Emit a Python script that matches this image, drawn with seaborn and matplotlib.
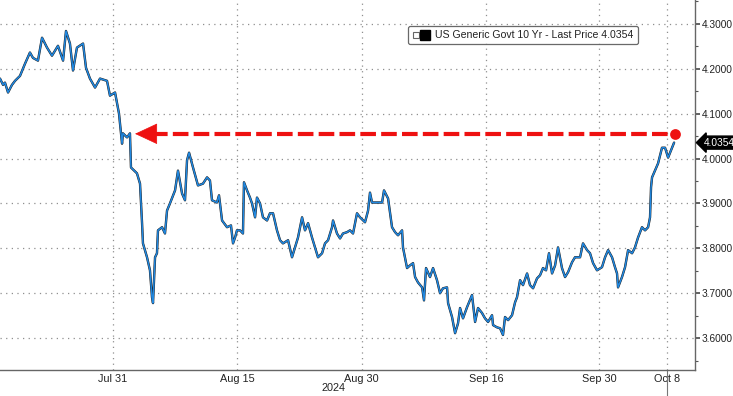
import numpy as np
import pandas as pd
import matplotlib
matplotlib.use("Agg")
import matplotlib.pyplot as plt
import matplotlib.transforms as mtransforms
import seaborn as sns
from matplotlib.lines import Line2D
from matplotlib.legend_handler import HandlerTuple
from matplotlib.ticker import FixedLocator, FormatStrFormatter, MultipleLocator

# ---- data (x = business days since Jul 17, 2024; y = 10y yield) ----
session_day = [
    0.00, 0.27, 0.44, 0.71, 1.06, 1.33, 1.77, 2.21, 2.65, 2.92, 3.36, 3.72, 4.16, 4.60, 5.13, 5.58,
    5.84, 6.19, 6.46, 6.81, 7.35, 7.61, 7.96, 8.41, 8.85, 9.47, 9.73, 10.18, 10.53, 10.80, 10.88,
    11.24, 11.50, 11.59, 12.12, 12.39, 12.57, 12.65, 13.01, 13.27, 13.45, 13.54, 13.72, 13.89, 13.98,
    14.34, 14.60, 14.78, 15.04, 15.49, 15.75, 16.11, 16.37, 16.55, 16.73, 17.08, 17.52, 17.96, 18.32,
    18.58, 18.76, 19.20, 19.38, 19.65, 20.09, 20.44, 20.62, 20.80, 20.97, 21.24, 21.50, 21.59, 21.86,
    22.12, 22.30, 22.57, 22.74, 23.01, 23.27, 23.63, 23.89, 24.16, 24.51, 24.78, 25.04, 25.49, 25.84,
    26.11, 26.37, 26.73, 26.99, 27.26, 27.61, 27.88, 28.14, 28.50, 28.76, 29.03, 29.38, 29.47, 29.82,
    30.09, 30.35, 30.71, 30.97, 31.24, 31.59, 31.86, 32.30, 32.57, 32.74, 32.92, 33.81, 33.98, 34.34,
    34.69, 34.96, 35.22, 35.58, 35.66, 36.02, 36.28, 36.55, 36.73, 36.99, 37.35, 37.52, 37.70, 38.05,
    38.32, 38.67, 38.94, 39.20, 39.56, 39.65, 40.00, 40.27, 40.53, 40.71, 40.97, 41.33, 41.77, 42.04,
    42.30, 42.65, 42.92, 43.19, 43.54, 43.63, 43.98, 44.25, 44.51, 44.69, 44.96, 45.31, 45.58, 45.75,
    46.02, 46.28, 46.64, 46.90, 47.17, 47.52, 47.79, 48.05, 48.32, 48.58, 48.85, 49.12, 49.38, 49.73,
    50.00, 50.27, 50.62, 50.88, 51.33, 51.59, 51.95, 52.21, 52.48, 52.83, 53.27, 53.54, 53.81, 54.16,
    54.42, 54.60, 54.69, 55.04, 55.31, 55.58, 55.93, 56.19, 56.46, 56.81, 57.08, 57.35, 57.52, 57.61,
    57.70, 57.96, 58.23, 58.58, 58.85, 59.12, 59.47, 59.65,
]
yield_pct = [
    4.178, 4.164, 4.169, 4.147, 4.164, 4.173, 4.184, 4.211, 4.236, 4.224, 4.218, 4.269, 4.247, 4.229, 4.251, 4.218,
    4.284, 4.256, 4.196, 4.247, 4.256, 4.202, 4.178, 4.158, 4.178, 4.173, 4.140, 4.147, 4.100, 4.033, 4.056,
    4.047, 4.056, 3.980, 3.967, 3.944, 3.856, 3.811, 3.780, 3.751, 3.691, 3.678, 3.780, 3.789, 3.840,
    3.847, 3.833, 3.884, 3.900, 3.929, 3.973, 3.922, 3.907, 3.996, 4.013, 3.980, 3.940, 3.944, 3.958,
    3.951, 3.907, 3.902, 3.918, 3.862, 3.847, 3.851, 3.811, 3.824, 3.840, 3.840, 3.833, 3.947, 3.929,
    3.913, 3.900, 3.869, 3.913, 3.900, 3.869, 3.862, 3.878, 3.878, 3.840, 3.818, 3.811, 3.818, 3.780,
    3.802, 3.824, 3.869, 3.840, 3.856, 3.824, 3.802, 3.780, 3.789, 3.811, 3.818, 3.847, 3.862, 3.833,
    3.822, 3.833, 3.836, 3.840, 3.833, 3.878, 3.869, 3.858, 3.884, 3.924, 3.902, 3.902, 3.929, 3.911,
    3.847, 3.836, 3.829, 3.840, 3.802, 3.756, 3.762, 3.767, 3.736, 3.724, 3.713, 3.684, 3.756, 3.736,
    3.756, 3.729, 3.700, 3.711, 3.713, 3.678, 3.647, 3.611, 3.633, 3.667, 3.644, 3.669, 3.696, 3.636,
    3.667, 3.656, 3.644, 3.636, 3.651, 3.629, 3.624, 3.622, 3.607, 3.647, 3.640, 3.651, 3.680, 3.691,
    3.729, 3.718, 3.744, 3.718, 3.711, 3.733, 3.740, 3.756, 3.751, 3.789, 3.744, 3.762, 3.802, 3.756,
    3.736, 3.747, 3.769, 3.780, 3.780, 3.811, 3.796, 3.789, 3.767, 3.751, 3.758, 3.780, 3.796, 3.780,
    3.758, 3.744, 3.713, 3.736, 3.758, 3.796, 3.789, 3.802, 3.824, 3.847, 3.840, 3.847, 3.869, 3.936,
    3.958, 3.973, 3.989, 4.024, 4.024, 4.002, 4.024, 4.0354,
]
tick_days = [10, 21, 32, 43, 53, 59]
tick_labels = ["Jul 31", "Aug 15", "Aug 30", "Sep 16", "Sep 30", "Oct 8"]
minor_days = [3, 16, 27, 38, 48]
y_ticks = [3.6, 3.7, 3.8, 3.9, 4.0, 4.1, 4.2, 4.3]
year_label = "2024"
last_price = 4.0354
legend_label = "US Generic Govt 10 Yr - Last Price 4.0354"
arrow_level = 4.055
arrow_from_day = 59.73
arrow_to_day = 11.95

# ---- figure ----
sns.set_style("white")
plt.rcParams['font.family'] = ['Liberation Sans', 'DejaVu Sans']

W, H = 733, 396
fig = plt.figure(figsize=(W / 100, H / 100), dpi=100)
ax = fig.add_axes([0, 1 - 370 / H, 695 / W, 370 / H])

df = pd.DataFrame({"day": session_day, "yield": yield_pct})
sns.lineplot(data=df, x="day", y="yield", ax=ax, color="#1a1a1a", lw=1.7,
             estimator=None, sort=False, zorder=3)
sns.lineplot(data=df, x="day", y="yield", ax=ax, color="#2188e0", lw=1.1,
             estimator=None, sort=False, zorder=4)

ax.set_xlim(0, 61.5)
ax.set_ylim(3.529, 4.353)
ax.set_xlabel("")
ax.set_ylabel("")

# ticks and grid
ax.xaxis.set_major_locator(FixedLocator(tick_days))
ax.xaxis.set_minor_locator(FixedLocator(minor_days))
ax.set_xticklabels(tick_labels)
ax.yaxis.set_major_locator(FixedLocator(y_ticks))
ax.yaxis.set_minor_locator(MultipleLocator(0.05))
ax.yaxis.set_major_formatter(FormatStrFormatter("%.4f"))
ax.grid(True, which="major", linestyle=(0, (1, 3.5)), color="#8f8f8f", lw=0.9)

for s in ["left", "top"]:
    ax.spines[s].set_visible(False)
for s in ["right", "bottom"]:
    ax.spines[s].set_color("#666666")
    ax.spines[s].set_linewidth(1.0)

ax.yaxis.tick_right()
ax.tick_params(axis="y", which="major", direction="out", length=3.5, width=1.3,
               colors="#555555", labelcolor="#222222", labelsize=7.3, pad=1.5)
ax.tick_params(axis="y", which="minor", direction="out", length=2.5, width=0.8, colors="#555555")
ax.tick_params(axis="x", which="major", direction="in", length=3, width=0.8,
               colors="#555555", labelcolor="#222222", labelsize=7.8, pad=3)
ax.tick_params(axis="x", which="minor", direction="inout", length=3, width=0.8, colors="#555555")

# Oct 8 marker line below axis
trans = mtransforms.blended_transform_factory(ax.transData, ax.transAxes)
ax.plot([tick_days[-1], tick_days[-1]], [0, -0.075], transform=trans, clip_on=False,
        color="#777777", lw=0.8)

fig.text(333 / W, 1 - 388 / H, year_label, ha="center", va="center", fontsize=7.8, color="#222222")

# red dashed arrow
ax.plot([arrow_to_day + 1.5, arrow_from_day], [arrow_level, arrow_level], color="#ee1111",
        lw=3.0, dashes=(3.75, 1.25), solid_capstyle="butt", zorder=5)
ax.annotate("", xy=(arrow_to_day, arrow_level), xytext=(arrow_to_day + 1.8, arrow_level),
            arrowprops=dict(arrowstyle="-|>,head_length=1.5,head_width=0.7", color="#ee1111",
                            lw=0.5, shrinkA=0, shrinkB=0), zorder=6)
ax.scatter([arrow_from_day], [arrow_level], s=60, color="#ee1111", zorder=7, linewidths=0)

# last price tag
ytrans = mtransforms.blended_transform_factory(ax.transAxes, ax.transData)
ax.text(1.012, last_price, f"{last_price:.4f}", transform=ytrans, ha="left", va="center",
        fontsize=7.3, color="white", clip_on=False,
        bbox=dict(boxstyle="larrow,pad=0.15", fc="black", ec="black"), zorder=8)

# legend
icon = Line2D([], [], marker="s", ls="", markersize=4, markerfacecolor="white",
              markeredgecolor="#666666", markeredgewidth=0.8)
square = Line2D([], [], marker="s", ls="", markersize=7, color="black")
leg = ax.legend([(icon, square)], [legend_label], handler_map={tuple: HandlerTuple(ndivide=None, pad=0.2)},
                loc="upper left", bbox_to_anchor=(408 / 695, 1 - 26 / 370), fontsize=7.6,
                frameon=True, fancybox=True, edgecolor="#444444", handlelength=1.6,
                handletextpad=0.6, borderpad=0.4, borderaxespad=0)
leg.get_frame().set_linewidth(0.9)
for t in leg.get_texts():
    t.set_color("#222222")

fig.savefig("out.png", dpi=100)
